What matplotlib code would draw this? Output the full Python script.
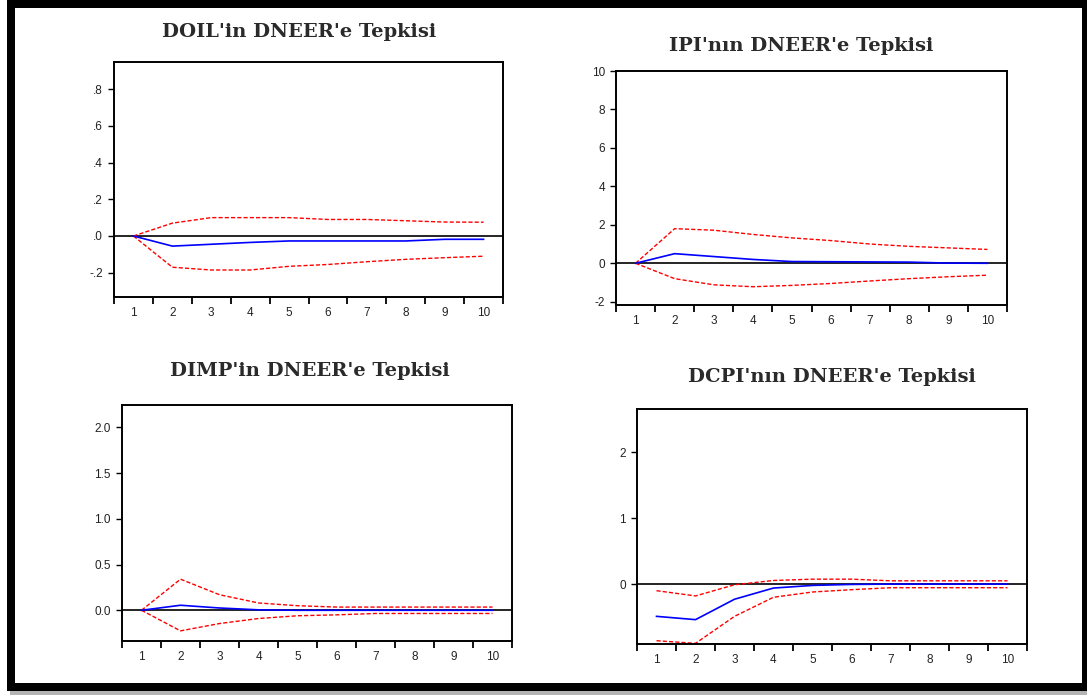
import numpy as np
import matplotlib
matplotlib.use("Agg")
import matplotlib.pyplot as plt
from matplotlib.patches import Rectangle

steps = [1, 2, 3, 4, 5, 6, 7, 8, 9, 10]

titles = ["DOIL'in DNEER'e Tepkisi", "IPI'nın DNEER'e Tepkisi",
          "DIMP'in DNEER'e Tepkisi", "DCPI'nın DNEER'e Tepkisi"]

doil_irf = [0.0, -0.055, -0.045, -0.035, -0.027, -0.027, -0.027, -0.027, -0.018, -0.018]
doil_up = [0.0, 0.07, 0.10, 0.10, 0.10, 0.09, 0.09, 0.083, 0.076, 0.075]
doil_lo = [0.0, -0.17, -0.185, -0.185, -0.165, -0.155, -0.14, -0.127, -0.118, -0.11]

ipi_irf = [0.0, 0.5, 0.35, 0.2, 0.09, 0.08, 0.07, 0.06, 0.01, 0.0]
ipi_up = [0.0, 1.8, 1.72, 1.5, 1.32, 1.18, 1.0, 0.88, 0.8, 0.72]
ipi_lo = [0.0, -0.8, -1.12, -1.22, -1.15, -1.05, -0.92, -0.8, -0.7, -0.62]

dimp_irf = [0.0, 0.055, 0.025, 0.005, 0.0, 0.0, 0.0, 0.0, 0.0, 0.0]
dimp_up = [0.0, 0.34, 0.17, 0.08, 0.05, 0.035, 0.035, 0.035, 0.035, 0.035]
dimp_lo = [0.0, -0.225, -0.145, -0.09, -0.06, -0.05, -0.035, -0.035, -0.035, -0.035]

dcpi_irf = [-0.49, -0.54, -0.23, -0.06, -0.02, -0.005, 0.0, 0.0, 0.0, 0.0]
dcpi_up = [-0.1, -0.18, -0.01, 0.055, 0.075, 0.075, 0.05, 0.05, 0.05, 0.05]
dcpi_lo = [-0.86, -0.9, -0.49, -0.2, -0.12, -0.085, -0.055, -0.055, -0.055, -0.055]

yticks = [[-0.2, 0.0, 0.2, 0.4, 0.6, 0.8],
          [-2, 0, 2, 4, 6, 8, 10],
          [0.0, 0.5, 1.0, 1.5, 2.0],
          [0, 1, 2]]
ytick_labels = [["-.2", ".0", ".2", ".4", ".6", ".8"],
                ["-2", "0", "2", "4", "6", "8", "10"],
                ["0.0", "0.5", "1.0", "1.5", "2.0"],
                ["0", "1", "2"]]
ylims = [(-0.332, 0.947), (-2.17, 10.0), (-0.336, 2.245), (-0.91, 2.66)]

W, H = 1087, 695
fig = plt.figure(figsize=(W / 100, H / 100), dpi=100)

# outer frame (pixel coords, top-left origin)
def px_rect(x0, y0, x1, y1, color):
    fig.add_artist(Rectangle((x0 / W, 1 - y1 / H), (x1 - x0) / W, (y1 - y0) / H,
                             transform=fig.transFigure, facecolor=color,
                             edgecolor="none", zorder=-10))

px_rect(10, 689, 1087, 695, "#b4b4b4")
px_rect(7, 0, 1087, 691, "black")
px_rect(15, 8, 1082, 683, "white")

# axes boxes in pixels: left, right, top, bottom
boxes = [(114, 503, 62, 297), (616, 1007, 71, 305),
         (122, 512, 405, 641), (637, 1027, 409, 644)]
title_y = [32, 46, 371, 377]
title_dx = [-9, -10, -7, 0]

irfs = [doil_irf, ipi_irf, dimp_irf, dcpi_irf]
ups = [doil_up, ipi_up, dimp_up, dcpi_up]
los = [doil_lo, ipi_lo, dimp_lo, dcpi_lo]

for i in range(4):
    l, r, t, b = boxes[i]
    ax = fig.add_axes([l / W, 1 - b / H, (r - l) / W, (b - t) / H])
    ax.axhline(0, color="black", lw=1.2, zorder=1)
    ax.plot(steps, ups[i], color="#ff0000", lw=1.0, ls=(0, (3, 1.5)), zorder=2)
    ax.plot(steps, los[i], color="#ff0000", lw=1.0, ls=(0, (3, 1.5)), zorder=2)
    ax.plot(steps, irfs[i], color="#0000ff", lw=1.2, zorder=3)

    ax.set_xlim(0.5, 10.5)
    ax.set_ylim(*ylims[i])
    ax.set_xticks(np.arange(0.5, 11, 1))
    ax.set_xticklabels([])
    ax.set_xticks(steps, minor=True)
    ax.set_xticklabels([str(s) for s in steps], minor=True,
                       fontsize=8.5, family="Liberation Sans", color="#222222")
    ax.tick_params(axis="x", which="major", direction="out", length=5, width=1.3)
    ax.tick_params(axis="x", which="minor", length=0, pad=7)
    ax.set_yticks(yticks[i])
    ax.set_yticklabels(ytick_labels[i], fontsize=8.5, family="Liberation Sans",
                       color="#222222")
    ax.tick_params(axis="y", direction="out", length=4, width=1.0, pad=4)
    for s in ax.spines.values():
        s.set_linewidth(1.4)

    fig.text(((l + r) / 2 + title_dx[i]) / W, 1 - title_y[i] / H, titles[i],
             ha="center", va="center", fontsize=14, fontweight="bold",
             family="DejaVu Serif", color="#2a2a2a")

fig.savefig("out.png", dpi=100)
